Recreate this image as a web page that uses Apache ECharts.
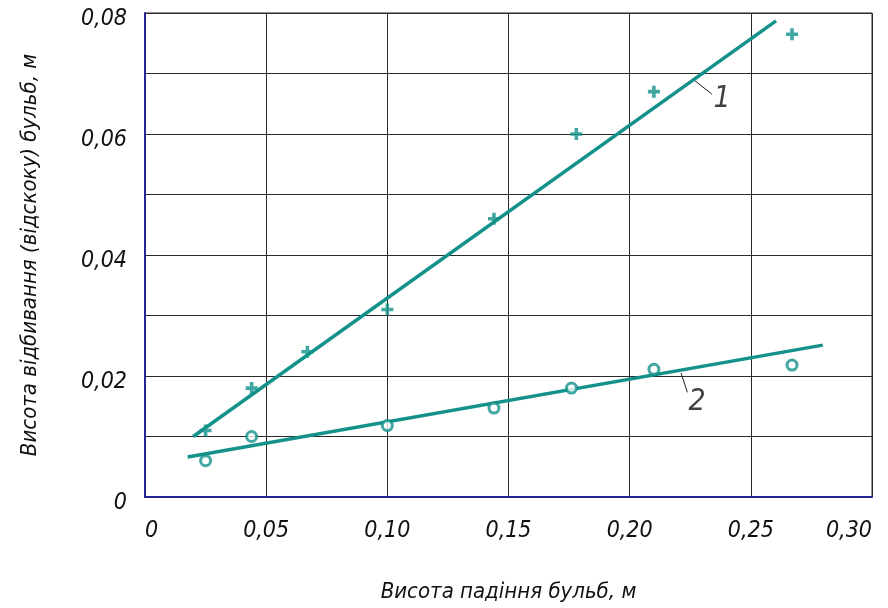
<!DOCTYPE html>
<html>
<head>
<meta charset="utf-8">
<script src="https://cdn.jsdelivr.net/npm/echarts@6/dist/echarts.min.js"></script>
<style>
  html, body { margin: 0; padding: 0; background: #ffffff; }
  #chart { width: 888px; height: 608px; }
</style>
</head>
<body>
<div id="chart"></div>
<script>
// Drop height (m) and measured rebound height (m)
const dropHeights1 = [0.025, 0.044, 0.067, 0.100, 0.144, 0.178, 0.210, 0.267];
const rebound1     = [0.011, 0.018, 0.024, 0.031, 0.046, 0.060, 0.067, 0.0765];
const dropHeights2 = [0.025, 0.044, 0.100, 0.144, 0.176, 0.210, 0.267];
const rebound2     = [0.006, 0.010, 0.0118, 0.0147, 0.018, 0.0211, 0.0218];

// Fitted trend lines (end points)
const fit1 = [[0.0199, 0.0100], [0.2604, 0.0787]];
const fit2 = [[0.0176, 0.0066], [0.2797, 0.0251]];

// Curve labels with their leader lines
const curveLabels = [
  { text: '1', at: [0.2381, 0.0657], leader: [[0.2263, 0.0690], [0.2339, 0.0666]] },
  { text: '2', at: [0.2278, 0.0156], leader: [[0.2212, 0.0205], [0.2238, 0.0173]] }
];

const xTickLabels = ['0', '0,05', '0,10', '0,15', '0,20', '0,25', '0,30'];
const yTickLabels = ['0', '', '0,02', '', '0,04', '', '0,06', '', '0,08'];

const xTitle = 'Висота падіння бульб, м';
const yTitle = 'Висота відбивання (відскоку) бульб, м';

const TEAL = '#13918a';
const FONT = '"Liberation Sans Narrow", "DejaVu Sans Condensed", "Roboto", sans-serif';
const PLUS = 'path://M4,0h3.4v4h4v3.4h-4v4h-3.4v-4h-4v-3.4h4z';

const zip = (xs, ys) => xs.map((x, i) => [x, ys[i]]);

const labelStyle = {
  fontFamily: FONT, fontStyle: 'italic', fontSize: 23, color: '#111'
};

const series = [
  {
    type: 'line', data: fit1, showSymbol: false, silent: true,
    lineStyle: { color: TEAL, width: 3.5 }, z: 3
  },
  {
    type: 'line', data: fit2, showSymbol: false, silent: true,
    lineStyle: { color: TEAL, width: 3.5 }, z: 3
  },
  {
    type: 'scatter', data: zip(dropHeights1, rebound1),
    symbol: PLUS, symbolSize: 12,
    itemStyle: { color: TEAL }, z: 4
  },
  {
    type: 'scatter', data: zip(dropHeights2, rebound2),
    symbol: 'circle', symbolSize: 10,
    itemStyle: { color: '#ffffff', borderColor: TEAL, borderWidth: 3 }, z: 4
  }
];

curveLabels.forEach(c => {
  series.push({
    type: 'line', data: c.leader, showSymbol: false, silent: true,
    lineStyle: { color: '#222', width: 1 }, z: 2
  });
  series.push({
    type: 'scatter', data: [c.at], symbolSize: 0, silent: true,
    label: {
      show: true, position: 'inside', formatter: c.text,
      fontFamily: FONT, fontStyle: 'italic', fontSize: 30, color: '#111'
    }
  });
});

const chart = echarts.init(document.getElementById('chart'), null, { renderer: 'canvas' });
chart.setOption({
  backgroundColor: '#ffffff',
  animation: false,
  grid: {
    left: 145, right: 16, top: 13, bottom: 110,
    show: true, borderColor: '#2a2a2a', borderWidth: 1
  },
  xAxis: {
    type: 'value', min: 0, max: 0.3, interval: 0.05,
    name: xTitle, nameLocation: 'middle', nameGap: 84,
    nameTextStyle: { fontFamily: FONT, fontStyle: 'italic', fontSize: 22, color: '#111' },
    axisLine: { lineStyle: { color: '#25258f', width: 2 } },
    axisTick: { show: false },
    splitLine: { show: true, lineStyle: { color: '#2a2a2a', width: 1 } },
    axisLabel: Object.assign({}, labelStyle, {
      margin: 23,
      alignMinLabel: 'left',
      alignMaxLabel: 'right',
      formatter: (v, i) => xTickLabels[i] ?? ''
    })
  },
  yAxis: {
    type: 'value', min: 0, max: 0.08, interval: 0.01,
    name: yTitle, nameLocation: 'middle', nameGap: 104, nameRotate: 90,
    nameTextStyle: { fontFamily: FONT, fontStyle: 'italic', fontSize: 22, color: '#111' },
    axisLine: { show: true, lineStyle: { color: '#25258f', width: 2 } },
    axisTick: { show: false },
    splitLine: { show: true, lineStyle: { color: '#2a2a2a', width: 1 } },
    axisLabel: Object.assign({}, labelStyle, {
      margin: 18,
      verticalAlign: 'top',
      lineHeight: 12,
      formatter: (v, i) => yTickLabels[i] ?? ''
    })
  },
  series: series
});
</script>
</body>
</html>
